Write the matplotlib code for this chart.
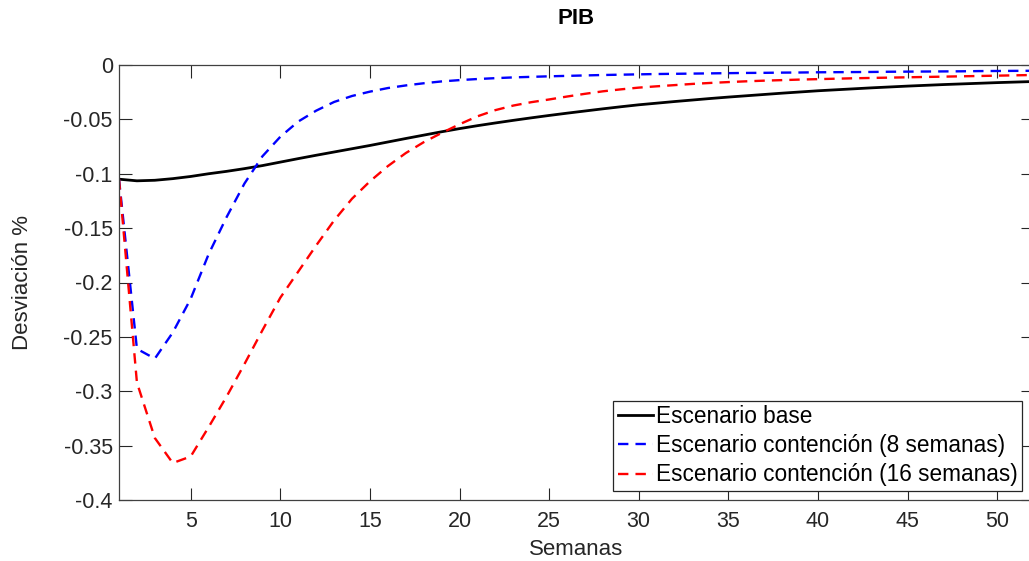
import matplotlib
matplotlib.use("Agg")
import matplotlib.pyplot as plt
import numpy as np

plt.rcParams['font.family'] = ['Liberation Sans', 'DejaVu Sans']

# weeks 1..52
semanas = np.arange(1, 53)

base = [-0.105, -0.1065, -0.106, -0.1045, -0.1025, -0.100, -0.0978, -0.0953, -0.0925, -0.0893,
        -0.0861, -0.0830, -0.0800, -0.0770, -0.0740, -0.0708, -0.0676, -0.0645, -0.0614, -0.0585,
        -0.0558, -0.0533, -0.0509, -0.0486, -0.0464, -0.0443, -0.0423, -0.0403, -0.0384, -0.0366,
        -0.0351, -0.0336, -0.0322, -0.0308, -0.0295, -0.0283, -0.0271, -0.0259, -0.0248, -0.0237,
        -0.0228, -0.0219, -0.0210, -0.0202, -0.0194, -0.0187, -0.0180, -0.0174, -0.0168, -0.0162,
        -0.0157, -0.0152]

cont8 = [-0.105, -0.261, -0.270, -0.246, -0.215, -0.174, -0.140, -0.109, -0.084, -0.066,
         -0.052, -0.042, -0.034, -0.0285, -0.0245, -0.0212, -0.0188, -0.0168, -0.0151, -0.0139,
         -0.0129, -0.0121, -0.0114, -0.0109, -0.0104, -0.0100, -0.0096, -0.0092, -0.0089, -0.0086,
         -0.0083, -0.0081, -0.0079, -0.0077, -0.0075, -0.0073, -0.0072, -0.0070, -0.0069, -0.0067,
         -0.0066, -0.0065, -0.0064, -0.0062, -0.0061, -0.0060, -0.0059, -0.0058, -0.0056, -0.0055,
         -0.0054, -0.0053]

cont16 = [-0.105, -0.292, -0.343, -0.366, -0.360, -0.333, -0.305, -0.275, -0.244, -0.214,
          -0.190, -0.166, -0.143, -0.123, -0.107, -0.093, -0.081, -0.0710, -0.0625, -0.0545,
          -0.0472, -0.0415, -0.0373, -0.0342, -0.0317, -0.0290, -0.0265, -0.0242, -0.0224, -0.0208,
          -0.0196, -0.0185, -0.0174, -0.0165, -0.0157, -0.0150, -0.0144, -0.0139, -0.0134, -0.0130,
          -0.0126, -0.0122, -0.0119, -0.0116, -0.0113, -0.0110, -0.0107, -0.0104, -0.0101, -0.0098,
          -0.0095, -0.0092]

etiquetas = ['Escenario base', 'Escenario contención (8 semanas)',
             'Escenario contención (16 semanas)']

xticks = [5, 10, 15, 20, 25, 30, 35, 40, 45, 50]
yticks = [0, -0.05, -0.1, -0.15, -0.2, -0.25, -0.3, -0.35, -0.4]

W, H = 1029, 561
fig = plt.figure(figsize=(W / 100, H / 100), dpi=100)
ax = fig.add_axes([119 / W, (H - 500) / H, (1033 - 119) / W, 435 / H])

ax.plot(semanas, base, color='black', lw=2.0, label=etiquetas[0])
ax.plot(semanas, cont8, color='#0000ff', lw=1.7, dashes=[4.4, 3.0], label=etiquetas[1])
ax.plot(semanas, cont16, color='#ff0000', lw=1.7, dashes=[4.4, 3.0], label=etiquetas[2])

ax.set_xlim(1, 52)
ax.set_ylim(-0.4, 0)
ax.set_xticks(xticks)
ax.set_yticks(yticks)
ax.set_yticklabels(['%g' % v if v != 0 else '0' for v in yticks])
ax.tick_params(direction='in', length=9, width=0.8, color='#262626',
               labelsize=15.5, labelcolor='#262626', top=True, right=True)
ax.tick_params(axis='x', pad=8)
ax.tick_params(axis='y', pad=4.5)
for s in ax.spines.values():
    s.set_color('#404040')
    s.set_linewidth(0.9)

ax.set_xlabel('Semanas', fontsize=16, color='#262626', labelpad=5)
ax.set_ylabel('Desviación %', fontsize=16, color='#262626', labelpad=22)
fig.text(576 / W, 1 - 18 / H, 'PIB', fontsize=16, fontweight='bold', ha='center', va='center')

leg = ax.legend(loc='lower right', bbox_to_anchor=(1022 / W, (H - 491) / H),
                bbox_transform=fig.transFigure, borderaxespad=0, fontsize=16.3,
                fancybox=False, framealpha=1, edgecolor='#262626', handlelength=1.55,
                handletextpad=0.13, borderpad=0.2, labelspacing=0.27)
leg.get_frame().set_linewidth(0.9)

fig.savefig('out.png', dpi=100)
